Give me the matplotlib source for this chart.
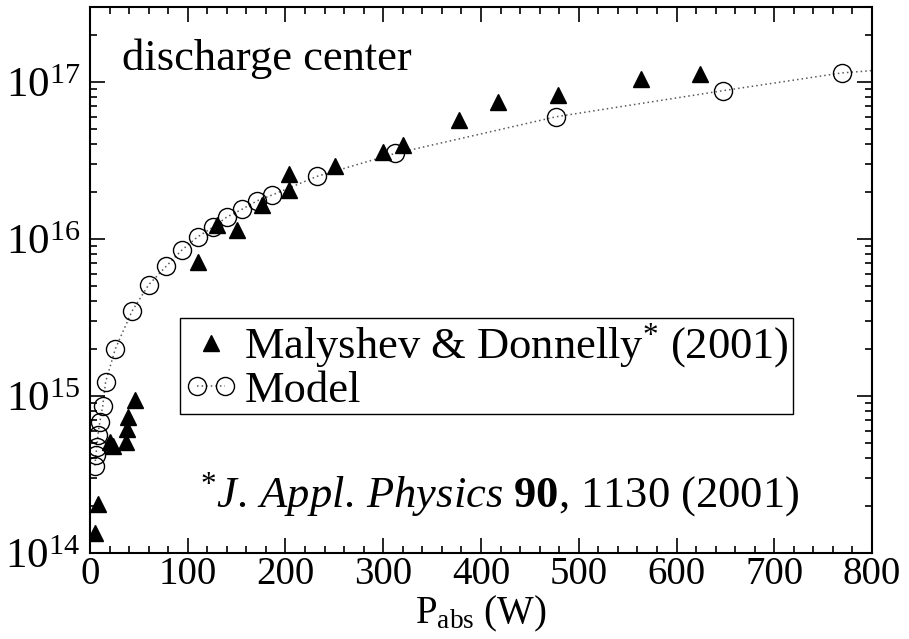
import numpy as np
import matplotlib
matplotlib.use("Agg")
import matplotlib.pyplot as plt
from matplotlib.legend_handler import HandlerLine2D
from matplotlib.ticker import LogLocator, MultipleLocator

plt.rcParams['font.family'] = ['Liberation Serif', 'DejaVu Serif']
plt.rcParams['mathtext.fontset'] = 'custom'
plt.rcParams['mathtext.rm'] = 'Liberation Serif'
plt.rcParams['mathtext.it'] = 'Liberation Serif:italic'
plt.rcParams['mathtext.bf'] = 'Liberation Serif:bold'

# measured data (Malyshev & Donnelly 2001)
exp_w = [5, 8, 20, 24, 37, 38, 39, 46, 110, 130, 150, 176, 204, 204, 251, 300, 320, 377, 417, 479, 564, 624]
exp_n = [1.35e14, 2.05e14, 5.1e14, 4.8e14, 5.1e14, 6.2e14, 7.35e14, 9.4e14, 7.1e15, 1.23e16, 1.14e16,
         1.65e16, 2.05e16, 2.6e16, 2.9e16, 3.6e16, 3.95e16, 5.7e16, 7.4e16, 8.3e16, 1.05e17, 1.13e17]

# model
model_w = [5, 6, 7, 8, 10, 13, 16, 26, 43, 60, 78, 94, 110, 126, 140, 156, 171, 186, 232, 312, 477, 648, 769]
model_n = [3.6e14, 4.2e14, 4.7e14, 5.6e14, 6.8e14, 8.6e14, 1.23e15, 2.0e15, 3.47e15, 5.1e15, 6.7e15,
           8.5e15, 1.03e16, 1.19e16, 1.38e16, 1.55e16, 1.75e16, 1.9e16, 2.5e16, 3.5e16, 6.0e16,
           8.8e16, 1.14e17]
# model curve keeps going to the right edge
model_end_w = 800
model_end_n = 1.18e17

fig = plt.figure(figsize=(9.09, 6.39), dpi=100)
ax = fig.add_axes([0.099, 0.1346, 0.8603, 0.8545])

ax.plot(model_w + [model_end_w], model_n + [model_end_n], ls=(0, (1, 2)), lw=1.1, c='0.35', zorder=1)
ax.plot(model_w, model_n, ls='none', marker='o', ms=13, mfc='none', mec='black', mew=1.0, zorder=2)
tri, = ax.plot(exp_w, exp_n, ls='none', marker='^', ms=12, mfc='black', mec='black', zorder=3,
               label='Malyshev & Donnelly$^{*}$ (2001)')
mod, = ax.plot([], [], ls=(0, (1, 2)), lw=1.1, c='0.35', marker='o', ms=13, mfc='none', mec='black',
               mew=1.0, label='Model')

ax.set_yscale('log')
ax.set_xlim(0, 800)
ax.set_ylim(1e14, 3e17)
ax.xaxis.set_major_locator(MultipleLocator(100))
ax.xaxis.set_minor_locator(MultipleLocator(20))
ax.yaxis.set_major_locator(LogLocator(base=10))
ax.yaxis.set_minor_locator(LogLocator(base=10, subs=np.arange(2, 10)))
ax.tick_params(which='both', direction='in', top=True, right=True, width=1.2)
ax.tick_params(which='major', length=11)
ax.tick_params(which='minor', length=5)
ax.tick_params(axis='x', which='major', labelsize=28, pad=2)
ax.tick_params(axis='y', which='major', labelsize=31, pad=7)
for s in ax.spines.values():
    s.set_linewidth(1.5)

ax.set_xlabel(r'P$_{\rm abs}$ (W)', fontsize=28, labelpad=1)

ax.text(0.041, 0.905, 'discharge center', transform=ax.transAxes, fontsize=32, va='center')
ax.text(0.141, 0.106, r'$^{*}\mathit{J.\,Appl.\,Physics}$ $\mathbf{90}$, 1130 (2001)',
        transform=ax.transAxes, fontsize=32, va='center')

leg = ax.legend(handles=[tri, mod], loc='upper left', bbox_to_anchor=(0.115, 0.43),
                borderaxespad=0, fontsize=32, fancybox=False, framealpha=1, edgecolor='black',
                handlelength=1.23, handletextpad=0.14, borderpad=0.08, labelspacing=0.0,
                handler_map={mod: HandlerLine2D(numpoints=2), tri: HandlerLine2D(numpoints=1)})
leg.get_frame().set_linewidth(1.0)

fig.savefig('out.png', dpi=100)
